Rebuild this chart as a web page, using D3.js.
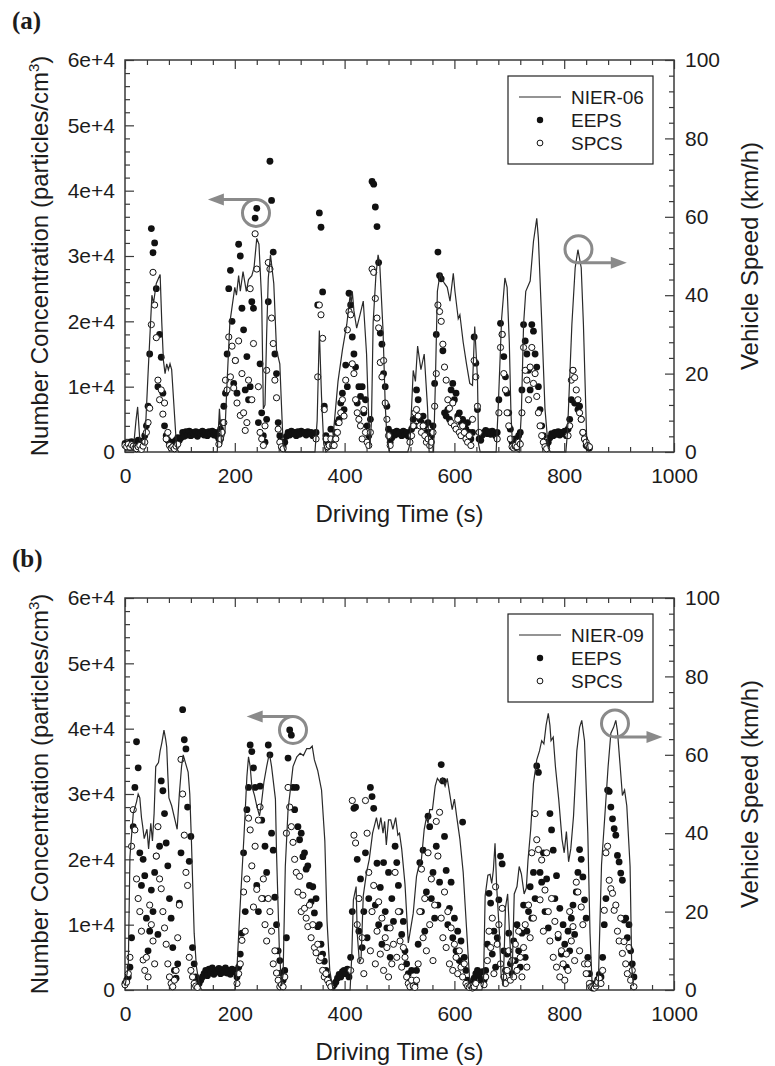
<!DOCTYPE html>
<html>
<head>
<meta charset="utf-8">
<style>
  body { margin: 0; background: #fff; }
  svg text { font-family: 'Liberation Sans', Arial, sans-serif; fill: #1c1c1c; }
  .axis line { stroke: #3a3a3a; stroke-width: 1.2; }
  .axis text { font-size: 21px; }
  .frame { fill: none; stroke: #3a3a3a; stroke-width: 1.5; }
  .speed { fill: none; stroke: #2a2a2a; stroke-width: 1.2; }
  .eeps { fill: #111; }
  .spcs { fill: #fff; stroke: #111; stroke-width: 1; }
  .note { fill: none; stroke: #8a8a8a; stroke-width: 3; }
  .legend rect { fill: #fff; stroke: #222; stroke-width: 1.2; }
  .legend text { font-size: 19px; }
</style>
</head>
<body>
<svg id="chart" width="775" height="1066"></svg>
<script src="https://d3js.org/d3.v7.min.js"></script>
<script>
// concentration values in 1e3 particles/cm3, one sample every 3 s from t = 0
var step = 3;

// ---- panel (a) NIER-06 ----
var eepsA = [
  1.3,1.1,0.9,1.4,1.6,1.2,1.0,1.5,1.8,1.3,1.1,1.7,                       // 0-33
  2.5,4.0,7.0,15.0,34.2,30.5,32.0,25.0,10.0,18.0,14.5,9.0,4.0,2.5,1.8,1.2,1.5,1.0,1.6,1.8,2.2, // 36-96
  1.8,2.2,3.0,2.4,3.1,2.6,3.2,2.5,3.0,2.7,3.1,2.4,3.0,2.8,3.2,2.6,3.0,2.5,3.1,2.8,3.2,2.6,3.0,2.4, // 99-168
  2.0,3.5,4.5,7.0,9.0,15.0,25.0,27.8,20.0,10.5,14.0,9.0,31.8,30.0,22.0,18.7,9.5,14.6,8.0,10.0,
  23.0,22.0,35.8,37.3,4.5,13.5,6.0,2.5,1.5,5.0,23.0,44.5,38.5,30.6,15.0,12.0,4.5,2.5,1.5,0.8, // 171-288
  1.5,2.4,3.0,2.6,3.2,2.8,3.0,2.5,3.1,2.7,3.2,2.9,3.0,2.6,3.1,2.8,3.0,2.5,2.8, // 291-345
  3.0,22.5,36.6,34.4,24.5,7.0,2.5,1.5,2.0,3.5,1.8,                        // 348-378
  2.0,3.0,4.5,5.0,7.5,9.0,6.5,13.3,10.0,24.3,22.5,17.6,15.0,13.0,7.5,10.0,8.5,10.0,6.0,8.0,4.0,2.5, // 381-444
  5.0,41.4,41.0,37.5,34.5,29.0,18.2,16.5,12.0,10.0,7.0,3.5,1.5,           // 447-483
  2.2,3.0,2.6,3.2,2.8,3.0,2.5,3.2,2.7,3.0,2.4,                            // 486-516
  2.5,3.5,5.0,4.0,9.5,8.0,5.0,4.5,5.5,4.0,3.0,4.5,3.0,                    // 519-555
  2.5,4.0,10.5,18.0,30.6,27.0,26.5,15.5,6.0,5.5,6.5,5.0,9.5,10.5,8.0,9.0,5.5,6.0,4.5,5.0,
  4.0,3.5,4.5,3.0,2.0,3.0,17.6,13.6,6.5,2.0,                              // 558-645
  1.8,2.6,3.0,3.3,2.8,3.1,2.7,3.2,2.9,2.5,                                // 648-675
  3.0,8.0,19.7,18.0,14.6,11.5,9.0,6.0,3.5,1.5,                            // 678-705
  1.2,2.0,1.5,2.5,3.0,                                                    // 708-720
  9.5,19.5,17.0,15.0,12.5,9.5,19.5,18.5,15.0,13.0,10.0,6.5,4.0,2.5,1.5,1.0, // 723-768
  1.5,2.2,2.8,2.5,3.0,2.7,3.1,2.6,3.0,2.8,3.2,2.5,                        // 771-804
  3.5,5.0,8.0,12.5,7.5,7.5,6.5,7.0,5.0,3.0,2.0,1.0,0.8,0.6                // 807-846
];
var spcsA = [
  1.0,0.8,1.2,0.7,1.1,0.9,0.6,0.5,0.8,1.0,0.4,0.9,
  1.5,3.0,4.5,6.7,19.5,27.5,22.5,17.5,11.0,8.0,9.5,5.8,7.5,2.0,3.0,1.0,0.6,0.8,0.5,0.9,1.2,
  null,null,null,null,null,null,null,null,null,null,null,null,null,null,null,null,null,null,null,null,null,null,null,null,
  1.2,2.0,3.0,4.5,11.0,9.5,17.6,11.5,16.2,9.8,14.0,7.5,17.0,5.6,12.0,6.0,3.3,4.5,11.0,25.0,
  8.0,16.6,33.4,28.0,10.0,3.0,2.0,1.0,4.0,12.5,29.0,28.0,20.5,16.6,11.0,8.3,3.5,1.5,0.8,0.5,
  null,null,null,null,null,null,null,null,null,null,null,null,null,null,null,null,null,null,null,
  2.0,11.5,22.5,21.0,17.4,6.5,2.0,0.8,1.0,2.0,1.0,
  1.0,2.0,3.0,4.5,6.0,8.0,5.5,11.0,18.7,21.5,21.0,13.5,12.0,8.0,6.0,5.0,4.0,2.0,6.5,3.0,1.5,1.0,
  3.0,28.0,27.5,23.5,20.5,19.0,13.7,11.5,14.0,7.5,5.0,2.5,1.0,
  null,null,null,null,null,null,null,null,null,null,null,
  1.5,2.5,4.0,6.0,6.5,5.5,4.0,3.0,4.0,2.5,1.5,2.0,1.0,
  1.5,3.0,7.0,12.0,22.5,21.5,20.0,16.5,13.0,11.0,8.0,6.7,4.5,7.5,4.0,3.5,5.0,3.0,2.5,4.0,
  3.0,2.0,1.5,2.5,1.0,5.0,14.0,11.5,7.0,3.0,
  null,null,null,null,null,null,null,null,null,null,
  2.0,6.0,16.0,18.0,12.0,9.5,6.0,4.0,2.0,0.8,
  0.6,1.0,0.8,1.5,1.2,
  6.0,16.0,12.5,11.0,8.0,13.0,16.0,10.5,12.0,8.5,6.0,4.0,2.5,1.5,0.8,0.5,
  null,null,null,null,null,null,null,null,null,null,null,null,
  2.5,4.0,11.0,12.5,11.4,9.5,8.0,6.0,5.0,3.0,2.0,1.5,1.0,0.8
];
// vehicle speed (km/h) against time (s)
var speedTimeA = [0,15,20,23,27,33,36,42,49,52,57,64,67,70,73,76,79,82,85,94,
  98,168,172,176,182,186,191,200,203,207,210,215,221,225,231,235,240,244,249,252,
  255,258,261,265,271,276,282,285,288,292,346,350,354,358,362,366,374,379,388,396,
  404,410,412,414,417,422,428,434,440,443,446,449,452,457,461,464,470,474,477,482,
  515,519,525,529,533,539,545,551,554,562,565,569,574,578,582,587,592,598,601,607,
  610,616,622,628,633,637,642,644,647,676,680,686,692,696,700,703,706,718,722,726,
  730,738,744,750,753,759,765,771,775,803,806,814,820,825,831,835,841,845];
var speedA = [0.5,0.5,8,11.5,3,2,2,20,40,38,43,45.3,33,23.3,20,22.5,21,22.5,21,1,
  0,0,11,2,5,18,33,42,40,45,41,46,41,44,45,47,54.5,53,38.6,11,
  12,30,44.4,50.3,43,26,22.5,12,2,0,0,8,31,14,2,0,1,4,18,26,
  32.6,40,38,41,36,31.6,35,38.5,25,12,1,8,33,45,50.3,48,31,12,4,0,
  0,2,20.8,18,27,21,25,11.5,0,0,15.7,41,45.6,44,43,42,38.5,45.6,41,34,
  35,28,22.5,17.5,17,32,19,2,0,0,12,34,44.4,42,28,10,1,0,10,32.6,
  41,43.6,53.7,59.6,54.5,33.4,11,1,0,0,5,32.6,47,51.6,47,32.6,3,0];

// ---- panel (b) NIER-09 ----
var eepsB = [
  1.0,1.5,2.0,3.5,8.0,25.0,31.0,38.0,34.0,21.0,16.0,20.0,17.5,11.0,6.0,9.0,15.3,12.0,18.0,20.5,
  8.5,22.0,32.0,30.5,27.0,22.5,19.0,14.0,11.0,6.5,3.0,1.8,4.0,13.3,21.0,42.9,38.3,36.9,28.0,19.7,
  23.5,6.5,4.0,2.0,1.0,                                                   // 0-132
  1.0,1.5,2.0,2.5,3.0,2.2,3.2,2.6,3.4,2.4,3.0,2.8,3.3,2.5,3.1,2.7,3.4,2.6,3.0,2.4,3.2,2.8,3.0, // 135-201
  2.0,3.5,5.5,8.7,21.0,12.0,27.6,31.0,37.5,36.5,34.0,31.0,16.0,12.0,31.2,26.0,14.0,22.0,18.0,37.5,
  36.0,24.0,21.4,14.2,10.0,6.0,4.5,2.6,                                   // 204-285
  1.5,3.0,8.0,35.5,39.8,39.0,31.0,27.6,31.0,25.0,23.0,24.0,20.4,21.0,18.5,19.0,16.0,13.5,15.8,11.8,
  14.0,9.7,10.0,7.0,5.5,4.4,3.0,2.0,1.2,0.6,                              // 288-375
  0.5,0.8,1.2,1.8,2.4,2.0,2.8,3.0,2.5,3.2,2.0,                            // 378-408
  5.0,12.0,27.8,28.0,20.0,9.0,17.0,6.5,12.0,21.0,8.0,14.0,31.0,29.6,27.8,13.0,19.4,10.0,15.7,7.0,
  19.5,12.0,9.5,18.0,5.0,14.0,10.5,22.0,19.5,16.0,12.0,8.5,10.5,6.0,4.0,2.5,1.5,3.0,1.0,0.8, // 411-528
  3.0,7.0,19.5,12.0,21.4,9.0,15.0,26.6,25.0,14.0,18.0,11.0,22.0,13.0,16.5,34.5,32.0,23.5,18.3,10.0,
  12.5,16.5,8.0,11.0,6.0,9.0,4.5,7.5,25.7,5.0,3.0,1.5,0.8,                // 531-627
  0.5,1.0,1.8,2.5,3.0,2.2,1.5,2.8,                                        // 630-651
  1.5,3.0,7.0,14.8,13.3,5.5,9.0,3.5,8.0,13.8,20.5,19.3,6.0,3.0,5.5,8.7,4.0,2.5,7.5,4.5,
  10.0,6.0,3.5,8.7,13.0,5.0,9.0,12.0,15.8,11.0,18.0,                      // 654-744
  14.0,34.3,33.3,18.0,16.5,21.0,12.0,17.0,9.5,27.0,24.5,21.4,14.0,17.5,8.0,12.5,5.5,10.0,7.0,3.5,
  9.0,6.0,11.0,13.0,8.5,15.0,18.0,21.5,20.0,17.3,13.8,11.0,5.0,2.5,1.0,   // 747-849
  0.3,0.6,1.0,1.6,2.4,                                                    // 852-864
  2.0,5.0,10.0,14.0,30.6,30.4,28.0,26.2,24.7,23.7,20.6,19.6,17.9,16.8,10.7,11.0,8.0,10.0,6.0,4.0,2.0 // 867-927
];
var spcsB = [
  0.8,1.2,2.5,5.0,22.0,27.6,24.5,17.0,14.0,12.0,9.0,4.6,3.0,5.0,2.0,13.0,10.0,7.5,4.0,20.5,
  25.0,17.0,15.5,12.0,9.5,7.0,4.0,2.0,1.0,0.5,1.5,3.0,8.0,13.0,35.3,30.0,23.7,18.0,16.0,5.0,
  3.0,2.0,1.0,0.6,0.4,
  null,null,null,null,null,null,null,null,null,null,null,null,null,null,null,null,null,null,null,null,null,null,null,
  1.0,2.5,4.0,7.6,15.0,9.0,17.0,26.3,24.5,19.0,12.7,22.0,15.4,26.0,28.0,14.0,17.0,10.0,7.5,14.0,
  12.0,9.0,4.0,6.0,2.6,1.5,0.5,0.8,
  0.5,2.0,24.0,31.0,28.0,25.0,22.6,20.0,18.0,15.0,17.4,12.0,14.5,12.5,11.0,9.7,13.0,8.0,10.0,6.5,
  5.7,7.0,4.5,5.0,3.0,2.0,2.5,1.5,1.0,0.5,
  null,null,null,null,null,null,null,null,null,null,null,
  3.0,29.0,23.7,22.5,10.0,14.0,4.5,8.0,2.5,29.0,24.0,18.0,6.0,12.0,16.0,4.0,9.0,13.5,5.5,11.0,
  3.0,8.0,6.5,2.0,9.5,4.0,7.0,18.0,5.0,12.0,7.5,3.5,6.5,5.0,2.0,1.0,0.5,1.5,0.6,0.4,
  1.5,4.0,12.0,18.5,8.0,14.0,6.0,21.0,10.0,17.0,4.5,13.0,25.8,20.5,27.2,11.0,8.0,15.0,6.5,12.0,
  4.0,9.5,3.0,7.0,5.0,2.5,6.0,3.5,2.0,4.0,1.0,0.6,0.4,
  0.6,0.3,0.5,1.0,null,null,null,null,
  0.8,2.0,4.5,9.0,6.5,11.0,2.5,15.8,7.0,10.0,4.0,12.5,2.0,1.0,3.0,6.0,1.5,4.5,2.0,7.0,
  3.0,9.0,5.0,2.0,6.5,10.0,3.5,13.0,8.0,21.0,11.0,
  27.0,23.0,21.5,13.8,19.9,9.0,15.3,21.0,12.0,7.5,14.0,5.0,10.5,3.5,8.5,2.0,6.0,4.0,1.5,5.5,
  3.0,12.0,7.5,9.7,4.5,16.5,15.0,6.0,12.7,10.0,4.0,2.5,4.0,1.0,0.5,
  0.5,0.3,0.6,1.2,1.8,
  1.0,3.0,12.2,21.0,22.0,16.8,15.5,14.8,12.2,13.0,9.0,7.5,11.0,5.6,7.4,4.0,2.5,6.5,1.5,3.0,0.5
];
var speedTimeB = [0,6,9,15,21,24,27,30,32,35,40,43,47,50,53,56,61,64,67,71,
  74,76,78,80,85,91,95,99,103,106,110,115,118,121,126,130,136,140,200,203,
  209,217,222,225,228,231,236,240,245,248,253,258,263,267,274,276,281,285,288,292,
  297,302,306,313,319,325,331,337,341,345,351,358,364,368,373,379,410,413,416,421,
  423,427,430,434,440,445,451,458,462,466,470,473,476,480,484,488,493,497,500,504,
  510,516,519,525,531,535,540,545,549,552,555,560,565,569,574,578,583,587,592,596,
  600,604,610,616,622,628,631,650,653,656,661,665,668,671,674,677,682,685,689,693,
  697,702,705,709,714,718,722,727,731,734,739,744,750,755,759,763,767,771,774,776,
  780,784,790,796,800,804,808,812,817,823,828,832,837,843,847,851,862,868,874,880,
  885,890,894,897,902,906,910,914,920,923,926];
var speedB = [1,6,34,45,48,50,49,44,42,38.6,41,36,42.5,38,45,57,58,61,63,66.3,
  64,62,55,49,47,43.4,41,50,57,60,58,55.6,50,38,14.5,6,1,0,0,3,
  19.6,40,54.4,59.5,57,52,49.6,47,44.4,47,53,57,60.4,57,48.7,35,11,1,4,31.5,
  46,52,57,59.5,60.4,59.8,61.6,61.6,62.2,58.7,56,51,38,17.6,5,0,0,8.5,23,26.4,
  14.5,7,8,24,30,33.4,40,44,41,44,40,43,37,43.4,43.4,41,44,39.5,40,36,
  27,12,14.5,19.6,29,31.5,33.4,41,44,42.5,46,46,52,54,53,54,52,54,49.6,46,
  48.7,44.4,38.5,30,16,2,0,0,2,24,29.3,29.5,27.2,30.6,37.4,26.4,14.5,4,1,21,
  24.5,10,3,24.5,26.4,31.5,29.6,24.5,26,33,41,52.7,58.7,61,63.6,62.8,67.5,70.6,67.5,63.6,
  64.5,57,48.7,38.5,35,40.4,32.7,36,44.4,61,67,68.8,63.6,40,14.5,1,1,32,44.4,57,
  65.5,67,68.8,66,57,49.6,51,47,31.5,6,1];

// axis ticks
var xMajor = [0, 200, 400, 600, 800, 1000];
var xMinor = [40, 80, 120, 160, 240, 280, 320, 360, 440, 480, 520, 560, 640, 680, 720, 760, 840, 880, 920, 960];
var concMajor = [0, 10, 20, 30, 40, 50, 60];
var concLabels = ['0', '1e+4', '2e+4', '3e+4', '4e+4', '5e+4', '6e+4'];
var concMinor = [2, 4, 6, 8, 12, 14, 16, 18, 22, 24, 26, 28, 32, 34, 36, 38, 42, 44, 46, 48, 52, 54, 56, 58];
var speedMajor = [0, 20, 40, 60, 80, 100];
var speedMinor = [4, 8, 12, 16, 24, 28, 32, 36, 44, 48, 52, 56, 64, 68, 72, 76, 84, 88, 92, 96];

var panels = [
  { tag: '(a)', top: 60, bottom: 452, route: 'NIER-06', eeps: eepsA, spcs: spcsA, st: speedTimeA, sp: speedA,
    notes: [{ t: 238.6, v: 36.6, axis: 'L', tip: 151, edge: -1 }, { t: 826, v: 51.7, axis: 'R', tip: 914, edge: 1 }] },
  { tag: '(b)', top: 598, bottom: 990, route: 'NIER-09', eeps: eepsB, spcs: spcsB, st: speedTimeB, sp: speedB,
    notes: [{ t: 306, v: 39.8, axis: 'L', tip: 221.6, edge: -1 }, { t: 892.5, v: 68, axis: 'R', tip: 979, edge: 1 }] }
];

var svg = d3.select('#chart');
var left = 125, right = 674;

panels.forEach(function (p) {
  var g = svg.append('g');
  var x = d3.scaleLinear().domain([0, 1000]).range([left, right]);
  var yL = d3.scaleLinear().domain([0, 60]).range([p.bottom, p.top]);
  var yR = d3.scaleLinear().domain([0, 100]).range([p.bottom, p.top]);

  function noDomain(sel) { sel.select('.domain').remove(); }

  // ticks, all pointing inside the frame
  g.append('g').attr('class', 'axis').attr('transform', 'translate(0,' + p.bottom + ')')
    .call(d3.axisBottom(x).tickValues(xMinor).tickSize(-5).tickFormat('')).call(noDomain);
  g.append('g').attr('class', 'axis').attr('transform', 'translate(0,' + p.bottom + ')')
    .call(d3.axisBottom(x).tickValues(xMajor).tickSize(-9).tickPadding(16).tickFormat(d3.format('d'))).call(noDomain);
  g.append('g').attr('class', 'axis').attr('transform', 'translate(0,' + p.top + ')')
    .call(d3.axisTop(x).tickValues(xMinor).tickSize(-5).tickFormat('')).call(noDomain);
  g.append('g').attr('class', 'axis').attr('transform', 'translate(0,' + p.top + ')')
    .call(d3.axisTop(x).tickValues(xMajor).tickSize(-9).tickFormat('')).call(noDomain);
  g.append('g').attr('class', 'axis').attr('transform', 'translate(' + left + ',0)')
    .call(d3.axisLeft(yL).tickValues(concMinor).tickSize(-5).tickFormat('')).call(noDomain);
  g.append('g').attr('class', 'axis').attr('transform', 'translate(' + left + ',0)')
    .call(d3.axisLeft(yL).tickValues(concMajor).tickSize(-9).tickPadding(10)
      .tickFormat(function (d, i) { return concLabels[i]; })).call(noDomain);
  g.append('g').attr('class', 'axis').attr('transform', 'translate(' + right + ',0)')
    .call(d3.axisRight(yR).tickValues(speedMinor).tickSize(-5).tickFormat('')).call(noDomain);
  g.append('g').attr('class', 'axis').attr('transform', 'translate(' + right + ',0)')
    .call(d3.axisRight(yR).tickValues(speedMajor).tickSize(-9).tickPadding(11).tickFormat(d3.format('d'))).call(noDomain);

  g.append('rect').attr('class', 'frame')
    .attr('x', left).attr('y', p.top).attr('width', right - left).attr('height', p.bottom - p.top);

  // scatter: EEPS filled, SPCS open on top
  var pts = function (arr) {
    return arr.map(function (v, i) { return { t: i * step, v: v }; })
      .filter(function (d) { return d.v !== null; });
  };
  g.append('g').selectAll('circle').data(pts(p.eeps)).join('circle')
    .attr('class', 'eeps').attr('cx', function (d) { return x(d.t); })
    .attr('cy', function (d) { return yL(d.v); }).attr('r', 3.4);
  g.append('g').selectAll('circle').data(pts(p.spcs)).join('circle')
    .attr('class', 'spcs').attr('cx', function (d) { return x(d.t); })
    .attr('cy', function (d) { return yL(d.v); }).attr('r', 3.1);

  // speed trace
  var line = d3.line().x(function (d) { return x(d[0]); }).y(function (d) { return yR(d[1]); });
  g.append('path').attr('class', 'speed').attr('d', line(p.st.map(function (t, i) { return [t, p.sp[i]]; })));

  // annotations: circle + arrow to the axis it belongs to
  p.notes.forEach(function (n) {
    var cx = x(n.t), cy = n.axis === 'L' ? yL(n.v) : yR(n.v), r = 13.5;
    var ay = cy + n.edge * r, tx = x(n.tip), dir = tx < cx ? -1 : 1;
    g.append('circle').attr('class', 'note').attr('cx', cx).attr('cy', cy).attr('r', r);
    g.append('line').attr('class', 'note').attr('x1', cx).attr('y1', ay).attr('x2', tx - dir * 10).attr('y2', ay);
    g.append('path').attr('fill', '#8a8a8a')
      .attr('d', 'M' + tx + ',' + ay + 'L' + (tx - dir * 16) + ',' + (ay - 6) + 'L' + (tx - dir * 16) + ',' + (ay + 6) + 'Z');
  });

  // legend
  var lg = g.append('g').attr('class', 'legend').attr('transform', 'translate(508,' + (p.top + 16) + ')');
  lg.append('rect').attr('width', 145).attr('height', 88);
  lg.append('line').attr('x1', 11).attr('x2', 53).attr('y1', 21).attr('y2', 21).attr('stroke', '#2a2a2a').attr('stroke-width', 1.2);
  lg.append('circle').attr('class', 'eeps').attr('cx', 32).attr('cy', 44).attr('r', 3.2);
  lg.append('circle').attr('class', 'spcs').attr('cx', 32).attr('cy', 67).attr('r', 2.9);
  lg.append('text').attr('x', 63).attr('y', 28).text(p.route);
  lg.append('text').attr('x', 63).attr('y', 51).text('EEPS');
  lg.append('text').attr('x', 63).attr('y', 74).text('SPCS');

  // titles
  g.append('text').attr('x', 12).attr('y', p.top - 31)
    .style('font-family', "'Liberation Serif', 'Times New Roman', serif").style('font-weight', 'bold')
    .style('font-size', '25px').text(p.tag);
  g.append('text').attr('x', (left + right) / 2).attr('y', p.bottom + 70)
    .attr('text-anchor', 'middle').style('font-size', '24px').text('Driving Time (s)');
  var yt = g.append('text').attr('transform', 'translate(48,' + ((p.top + p.bottom) / 2) + ') rotate(-90)')
    .attr('text-anchor', 'middle').style('font-size', '24px');
  yt.append('tspan').text('Number Concentration (particles/cm');
  yt.append('tspan').attr('dy', -9).style('font-size', '15px').text('3');
  yt.append('tspan').attr('dy', 9).text(')');
  g.append('text').attr('transform', 'translate(758,' + ((p.top + p.bottom) / 2) + ') rotate(-90)')
    .attr('text-anchor', 'middle').style('font-size', '24px').text('Vehicle Speed (km/h)');
});
</script>
</body>
</html>
